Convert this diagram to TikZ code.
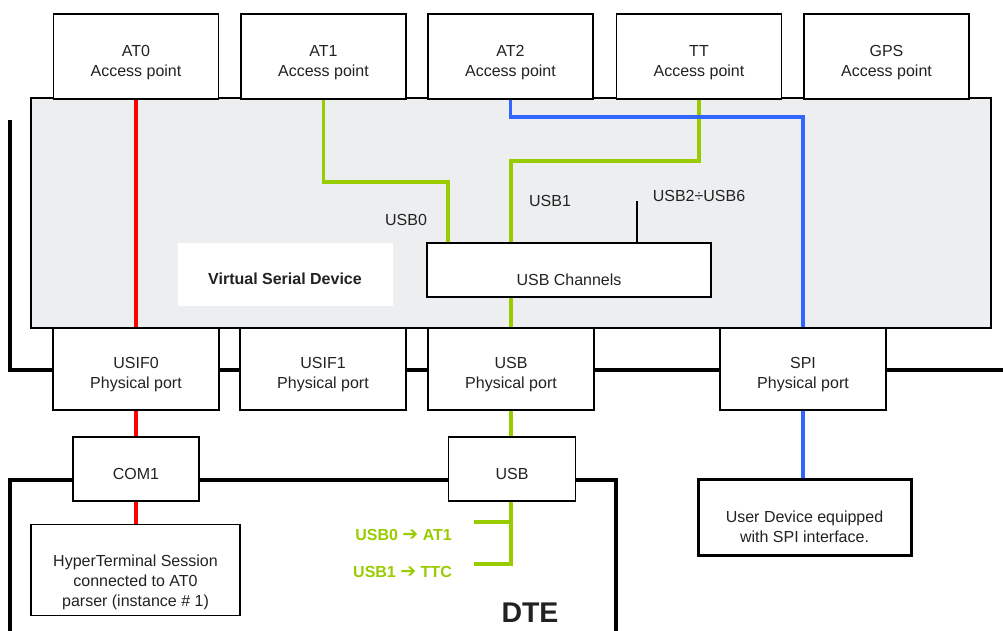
\documentclass[tikz,border=0pt]{standalone}
\usepackage{fontspec}
\setmainfont{Liberation Sans}
\newfontfamily\djv{DejaVu Sans}
\definecolor{vgrey}{HTML}{EDEEF0}
\definecolor{vred}{HTML}{FF0000}
\definecolor{vgreen}{HTML}{99CC00}
\definecolor{vblue}{HTML}{3366FF}
\definecolor{txt}{HTML}{222222}
\begin{document}
\begin{tikzpicture}[x=1pt,y=-1pt,
  box/.style={draw, fill=white, line width=1.1pt, align=center, inner sep=0pt},
  apbox/.style={box, minimum width=165pt, minimum height=85pt},
  portbox/.style={box, minimum width=166pt, minimum height=82pt},
  lbl/.style={text=txt, font=\fontsize{16}{20}\selectfont, inner sep=0pt, align=center},
  red line/.style={draw=vred, line width=3.2pt},
  green line/.style={draw=vgreen, line width=3.2pt},
  blue line/.style={draw=vblue, line width=3.2pt},
  bus/.style={draw=black, line width=4.5pt},
  glbl/.style={text=vgreen, font=\bfseries\fontsize{16}{18}\selectfont, inner sep=0pt, anchor=east}]
\useasboundingbox (0,0) rectangle (1003,630);
% virtual serial device area
\path[draw=black, line width=1.1pt, fill=vgrey] (31,98) rectangle (991,328);
\fill[white] (178,243) rectangle (393,306);
\node[text=txt, font=\bfseries\fontsize{16}{18}\selectfont, inner sep=0pt] (vsd) at (285,279) {Virtual Serial Device};
% bus and DTE frame
\coordinate (busTop) at (10,120);
\coordinate (busCorner) at (10,370);
\coordinate (busEnd) at (1003,370);
\draw[bus, line cap=butt] (busTop) -- (busCorner) -- (busEnd);
\coordinate (dteA) at (10,632);
\coordinate (dteB) at (10,480);
\coordinate (dteC) at (616,480);
\coordinate (dteD) at (616,632);
\draw[draw=black, line width=4pt] (dteA) -- (dteB) -- (dteC) -- (dteD);
% access points
\node[apbox, label={[lbl, name=at0t, yshift=-6pt]center:{AT0\\Access point}}] (at0) at (136,56.5) {};
\node[apbox, label={[lbl, name=at1t, yshift=-6pt]center:{AT1\\Access point}}] (at1) at (323.5,56.5) {};
\node[apbox, label={[lbl, name=at2t, yshift=-6pt]center:{AT2\\Access point}}] (at2) at (510.5,56.5) {};
\node[apbox, label={[lbl, name=ttt, yshift=-6pt]center:{TT\\Access point}}] (tt)  at (699,56.5) {};
\node[apbox, label={[lbl, name=gpst, yshift=-6pt]center:{GPS\\Access point}}] (gps) at (886.5,56.5) {};
% ports
\node[portbox, label={[lbl, name=usif0t, yshift=-6pt]center:{USIF0\\Physical port}}] (usif0) at (136,369) {};
\node[portbox, label={[lbl, name=usif1t, yshift=-6pt]center:{USIF1\\Physical port}}] (usif1) at (323,369) {};
\node[portbox, label={[lbl, name=usbpt, yshift=-6pt]center:{USB\\Physical port}}] (usbp)  at (511,369) {};
\node[portbox, label={[lbl, name=spit, yshift=-6pt]center:{SPI\\Physical port}}] (spi)   at (803,369) {};
% usb channels
\node[box, minimum width=284pt, minimum height=54pt] (usbch) at (569,270) {};
\node[lbl] (usbchl) at (569,280) {USB Channels};
% DTE side boxes
\node[box, minimum width=126pt, minimum height=64pt, label={[lbl, name=com1t, yshift=-5pt]center:COM1}] (com1) at (136,469) {};
\node[box, minimum width=127pt, minimum height=64pt, label={[lbl, name=usbbt, yshift=-5pt]center:USB}] (usbb) at (512,469) {};
\node[box, minimum width=209pt, minimum height=91pt, label={[lbl, name=hypert, yshift=-12pt]center:{HyperTerminal Session\\connected to AT0\\parser (instance \# 1)}}] (hyper) at (135.5,570) {};
\node[box, line width=3pt, minimum width=213pt, minimum height=76pt, label={[lbl, name=udevt, yshift=-10pt]center:{User Device equipped\\with SPI interface.}}] (udev) at (804.5,517) {};
% labels
\node[lbl] (l0) at (406,220) {USB0};
\node[lbl] (l1) at (550,201) {USB1};
\node[lbl] (l26) at (699,196) {USB2÷USB6};
\node[text=txt, font=\bfseries\fontsize{28.5}{30}\selectfont, inner sep=0pt] (dte) at (530,613) {DTE};
\node[glbl] (g0) at (452,535) {USB0 {\djv\fontsize{19}{18}\selectfont ➔} AT1};
\node[glbl] (g1) at (452,572) {USB1 {\djv\fontsize{19}{18}\selectfont ➔} TTC};
% red connectors
\draw[red line] (at0.south) -- (usif0.north);
\draw[red line] (usif0.south) -- (com1.north);
\draw[red line] (com1.south) -- (com1.south |- hyper.north);
% green connectors
\coordinate (ga) at (323.5,182);
\coordinate (gb) at (448,182);
\draw[green line] (at1.south) -- (ga) -- (gb) -- (gb |- usbch.north);
\coordinate (gc) at (699,161);
\coordinate (gd) at (511,161);
\draw[green line] (tt.south) -- (gc) -- (gd) -- (gd |- usbch.north);
\draw[green line] (gd |- usbch.south) -- (usbp.north);
\draw[green line] (usbp.south) -- (usbp.south |- usbb.north);
\coordinate (gv) at (511,564);
\coordinate (gt) at (474,522);
\coordinate (gu) at (474,564);
\draw[green line] (usbp.south |- usbb.south) -- (gv) -- (gu);
\draw[green line] (gt) -- (gt -| gv);
% blue connectors
\coordinate (ba) at (510.5,117);
\coordinate (bb) at (803,117);
\draw[blue line] (at2.south) -- (ba) -- (bb) -- (spi.north);
\draw[blue line] (spi.south) -- (spi.south |- udev.north);
% black stub
\coordinate (bs) at (637,201);
\draw[line width=1.5pt] (bs) -- (bs |- usbch.north);
\end{tikzpicture}
\end{document}
